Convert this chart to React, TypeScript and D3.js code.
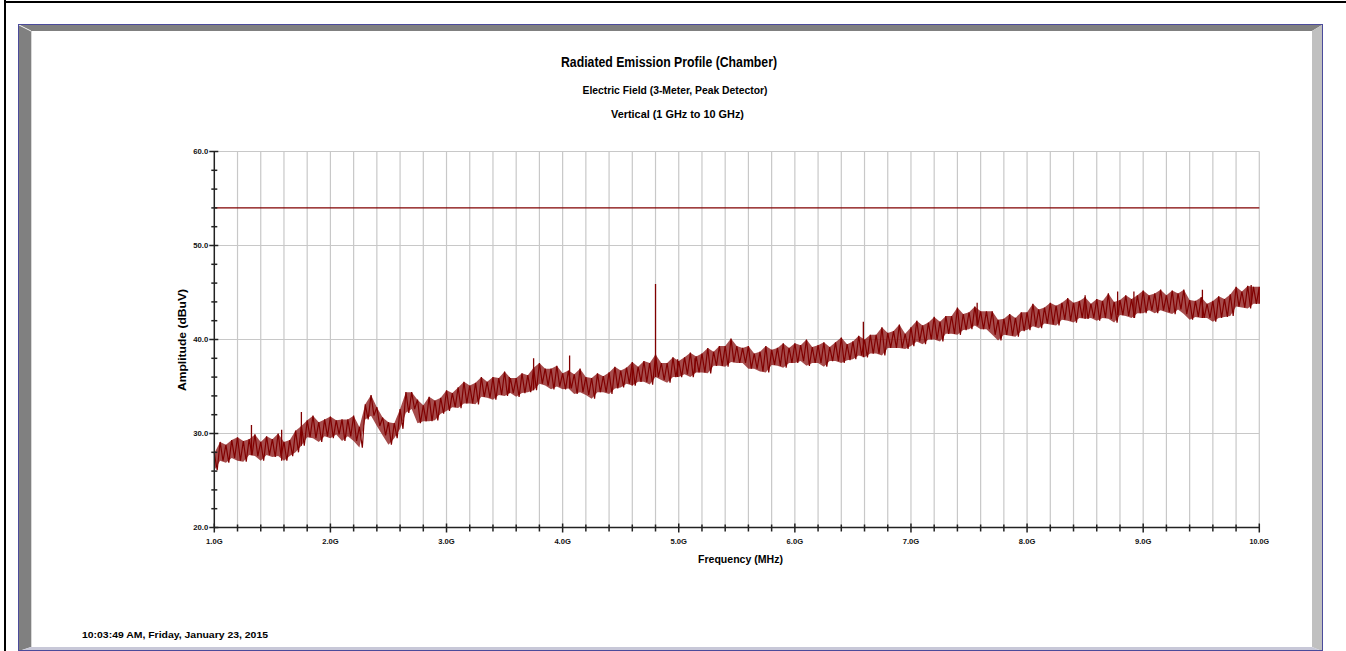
import React from 'react';
import * as d3 from 'd3';

// ---------- data ----------
const freqStartGHz = 1.0;
const freqStepGHz = 0.05;

// upper excursions of the noisy trace, one per 0.05 GHz from 1.00 to 10.00 GHz
const traceHigh = [
  27.9, 29.1, 28.8, 29.3, 29.6, 29.2, 29.4, 29.9, 29.1, 29.7,
  29.4, 30.0, 29.1, 29.3, 30.3, 30.8, 31.4, 31.9, 31.2, 31.5,
  31.8, 31.4, 31.5, 31.5, 31.9, 30.7, 33.1, 34.1, 32.8, 31.7,
  31.2, 31.1, 32.6, 34.4, 34.4, 33.6, 33.0, 33.9, 33.5, 33.8,
  34.6, 34.3, 34.9, 35.5, 35.1, 35.4, 36.0, 35.5, 36.0, 35.9,
  36.6, 35.9, 35.9, 36.4, 36.2, 37.0, 37.5, 36.9, 36.9, 37.2,
  36.4, 36.7, 36.3, 36.9, 36.0, 35.9, 36.4, 36.1, 36.5, 37.1,
  36.7, 37.0, 37.6, 37.1, 37.7, 37.5, 38.4, 37.5, 37.5, 38.1,
  37.7, 38.1, 38.6, 38.2, 38.5, 39.1, 38.7, 39.3, 39.3, 40.1,
  39.3, 39.1, 39.3, 38.5, 38.7, 39.3, 38.9, 39.1, 39.6, 39.1,
  39.6, 39.4, 40.0, 39.2, 39.4, 39.7, 39.2, 39.7, 40.2, 39.5,
  39.8, 40.4, 40.0, 40.5, 40.5, 41.3, 40.7, 40.9, 41.6, 40.6,
  41.3, 42.0, 41.5, 41.8, 42.4, 41.9, 42.5, 42.5, 43.4, 42.7,
  42.9, 43.5, 43.0, 43.0, 43.0, 42.1, 42.2, 42.7, 42.3, 42.9,
  42.9, 43.8, 43.2, 43.4, 43.9, 43.6, 43.9, 44.4, 43.9, 44.1,
  44.5, 43.8, 44.3, 44.1, 44.9, 44.0, 44.2, 44.7, 44.3, 44.7,
  45.2, 44.7, 44.9, 45.3, 44.7, 45.2, 44.9, 45.3, 44.2, 44.1,
  44.5, 43.8, 44.1, 44.6, 44.3, 44.8, 45.6, 45.1, 45.7, 45.6,
  45.6,
];

// lower excursions of the noisy trace, same frequency grid
const traceLow = [
  26.1, 27.1, 26.9, 27.4, 27.1, 27.0, 27.7, 27.6, 27.1, 27.7,
  27.5, 27.6, 27.1, 27.6, 28.0, 28.7, 29.6, 29.5, 29.1, 29.7,
  29.5, 29.9, 29.2, 29.7, 29.2, 28.5, 31.5, 31.9, 30.8, 29.8,
  28.8, 29.5, 30.5, 32.2, 32.6, 31.1, 31.3, 31.3, 31.4, 32.1,
  32.4, 32.8, 32.7, 33.2, 33.2, 33.1, 33.9, 33.8, 33.6, 34.1,
  34.0, 34.3, 33.9, 34.3, 34.4, 34.6, 35.3, 35.1, 34.7, 35.0,
  34.7, 34.8, 34.2, 34.4, 34.1, 33.7, 34.4, 34.4, 34.2, 34.8,
  34.9, 35.3, 35.1, 35.5, 35.5, 35.2, 36.0, 35.7, 35.4, 36.0,
  36.0, 36.3, 36.0, 36.5, 36.5, 36.4, 37.2, 37.2, 37.1, 37.6,
  37.5, 37.5, 36.9, 36.9, 36.6, 36.5, 37.3, 37.2, 37.0, 37.5,
  37.5, 37.7, 37.2, 37.5, 37.5, 37.1, 37.7, 37.7, 37.5, 37.8,
  37.9, 38.3, 38.1, 38.5, 38.5, 38.3, 39.1, 39.1, 39.1, 39.0,
  39.3, 39.8, 39.5, 40.0, 40.0, 39.8, 40.6, 40.6, 40.5, 41.0,
  41.1, 41.5, 41.1, 41.1, 40.5, 39.9, 40.5, 40.4, 40.3, 40.9,
  41.0, 41.4, 41.2, 41.7, 41.6, 41.5, 42.1, 42.0, 41.8, 42.3,
  42.2, 42.3, 42.0, 42.3, 42.2, 41.8, 42.6, 42.5, 42.3, 42.8,
  42.8, 43.1, 42.8, 43.1, 42.9, 42.7, 43.2, 42.7, 42.1, 42.4,
  42.3, 42.3, 41.9, 42.3, 42.4, 42.5, 43.5, 43.4, 43.3, 43.8,
  43.8,
];

// isolated narrow spurs standing above the noise
const spikeFreqGHz = [1.32, 1.58, 1.75, 3.54, 3.75, 4.06, 4.6, 4.8, 4.99, 5.14, 6.59, 7.57, 8.5, 8.78, 8.92, 9.51, 9.93];
const spikeTopDb = [30.9, 30.4, 32.3, 36.0, 38.0, 38.3, 37.0, 45.9, 37.9, 38.0, 41.9, 43.9, 44.7, 45.1, 45.1, 45.3, 45.8];

const limitDb = 54.0;

const xTickValues = [1, 2, 3, 4, 5, 6, 7, 8, 9, 10];
const xTickLabels = ['1.0G', '2.0G', '3.0G', '4.0G', '5.0G', '6.0G', '7.0G', '8.0G', '9.0G', '10.0G'];
const xMinorStep = 0.2;
const yTickValues = [20, 30, 40, 50, 60];
const yTickLabels = ['20.0', '30.0', '40.0', '50.0', '60.0'];
const yMinorStep = 2;

const titleText = 'Radiated Emission Profile (Chamber)';
const subtitle1 = 'Electric Field (3-Meter, Peak Detector)';
const subtitle2 = 'Vertical (1 GHz to 10 GHz)';
const xTitle = 'Frequency (MHz)';
const yTitle = 'Amplitude (dBuV)';
const stampText = '10:03:49 AM, Friday, January 23, 2015';

const FONT = "'Liberation Sans Narrow', 'Liberation Sans', Arial, sans-serif";
const TRACE = '#800000';

export default function App() {
  const x = d3.scaleLinear().domain([1, 10]).range([214.3, 1259.3]);
  const y = d3.scaleLinear().domain([20, 60]).range([527.5, 151.5]);

  const minorX = d3.range(1, 10.0001, xMinorStep);
  const minorY = d3.range(20, 60.0001, yMinorStep);

  const freqs = traceHigh.map((_, i) => freqStartGHz + i * freqStepGHz);

  // zig-zag the trace between its upper and lower excursions
  const pts: [number, number][] = [];
  traceHigh.forEach((hi, i) => {
    const f = freqs[i];
    pts.push([f, hi]);
    pts.push([Math.min(10, f + freqStepGHz / 2), traceLow[i]]);
  });
  const line = d3
    .line<[number, number]>()
    .x((d) => x(d[0]))
    .y((d) => y(d[1]));
  const tracePath = line(pts) || '';

  // noise band body
  const area = d3
    .area<number>()
    .x((_, i) => x(freqs[i]))
    .y0((_, i) => y(traceLow[i]))
    .y1((d) => y(d));
  const bandPath = area(traceHigh) || '';

  const spikePath = spikeFreqGHz
    .map((f, i) => {
      const idx = Math.round((f - freqStartGHz) / freqStepGHz);
      const base = traceLow[Math.max(0, Math.min(traceLow.length - 1, idx))];
      return `M${x(f)},${y(base)}L${x(f)},${y(spikeTopDb[i])}`;
    })
    .join('');

  const [x0, x1] = x.range();
  const [yb, yt] = y.range();

  return (
    <div style={{ position: 'fixed', left: 0, top: 0, width: 1346, height: 651, background: '#fff' }}>
      <svg width={1346} height={651} style={{ display: 'block' }}>
        <rect x={0} y={0} width={1346} height={651} fill="#fff" />
        {/* outer black rules */}
        <rect x={4} y={0} width={2} height={651} fill="#000" />
        <rect x={4} y={1} width={1342} height={2} fill="#000" />

        {/* bevelled frame */}
        <polygon points="19,25 1322,25 1312,31 31,31" fill="#808080" />
        <polygon points="19,25 31,31 31,647 19,651" fill="#808080" />
        <polygon points="1322,25 1322,651 1312,647 1312,31" fill="#c0c0c0" />
        <polygon points="19,651 31,647 1312,647 1322,651" fill="#c8c8d8" />
        <rect x={31} y={31} width={1281} height={616} fill="#fff" />
        <line x1={19} y1={25} x2={31} y2={31} stroke="#f0f0f0" strokeWidth={1} />
        <line x1={31.5} y1={31} x2={31.5} y2={647} stroke="#d8d8d8" strokeWidth={1} />
        <rect x={18.5} y={24.5} width={1304} height={626} fill="none" stroke="#4b4b9b" strokeWidth={1} />

        {/* titles */}
        <g fontFamily={FONT} fontWeight="bold" fill="#000" textAnchor="middle">
          <text x={669} y={67} fontSize={14} textLength={216} lengthAdjust="spacingAndGlyphs">{titleText}</text>
          <text x={675} y={94} fontSize={10} textLength={185} lengthAdjust="spacingAndGlyphs">{subtitle1}</text>
          <text x={677.5} y={118} fontSize={10} textLength={133} lengthAdjust="spacingAndGlyphs">{subtitle2}</text>
        </g>

        {/* grid */}
        <g stroke="#c8c8c8" strokeWidth={1.2}>
          {minorX.slice(1).map((f, i) => (
            <line key={'gx' + i} x1={x(f)} x2={x(f)} y1={yt} y2={yb} />
          ))}
          {yTickValues.slice(1).map((v, i) => (
            <line key={'gy' + i} x1={x0} x2={x1} y1={y(v)} y2={y(v)} />
          ))}
        </g>

        {/* limit line */}
        <line x1={x0} x2={x1} y1={y(limitDb)} y2={y(limitDb)} stroke={TRACE} strokeWidth={1.1} />

        {/* trace */}
        <path d={bandPath} fill={TRACE} fillOpacity={0.7} stroke="none" />
        <path d={tracePath} fill="none" stroke={TRACE} strokeWidth={1.2} strokeLinejoin="miter" />
        <path d={spikePath} fill="none" stroke={TRACE} strokeWidth={1.3} />

        {/* axes */}
        <g stroke="#222" strokeWidth={1.5}>
          <line x1={x0} x2={x0} y1={yt - 0.5} y2={yb + 0.5} />
          <line x1={x0} x2={x1} y1={yb} y2={yb} />
          {minorY.map((v, i) => {
            const major = yTickValues.includes(Math.round(v));
            return (
              <line key={'ty' + i} x1={major ? x0 - 5 : x0 - 3} x2={major ? x0 + 4 : x0 + 3} y1={y(v)} y2={y(v)} />
            );
          })}
          {minorX.map((f, i) => {
            const major = Math.abs(f - Math.round(f)) < 1e-6;
            return (
              <line key={'tx' + i} x1={x(f)} x2={x(f)} y1={major ? yb - 4 : yb - 3} y2={major ? yb + 5 : yb + 4} />
            );
          })}
        </g>

        {/* tick labels */}
        <g fontFamily={FONT} fontWeight="bold" fontSize={8} fill="#111">
          {yTickValues.map((v, i) => (
            <text key={'ly' + i} x={x0 - 6} y={y(v) + 2.9} textAnchor="end" textLength={15} lengthAdjust="spacingAndGlyphs">
              {yTickLabels[i]}
            </text>
          ))}
          {xTickValues.map((f, i) => (
            <text key={'lx' + i} x={x(f)} y={543.5} textAnchor="middle" textLength={xTickLabels[i].length > 4 ? 19.5 : 16.5} lengthAdjust="spacingAndGlyphs">
              {xTickLabels[i]}
            </text>
          ))}
        </g>

        {/* axis titles */}
        <g fontFamily={FONT} fontWeight="bold" fontSize={10.5} fill="#000" textAnchor="middle">
          <text x={740.5} y={563} textLength={85} lengthAdjust="spacingAndGlyphs">{xTitle}</text>
          <text transform="translate(186,340) rotate(-90)" textLength={102} lengthAdjust="spacingAndGlyphs">{yTitle}</text>
        </g>

        {/* timestamp */}
        <text x={82} y={637.5} fontFamily={FONT} fontWeight="bold" fontSize={9} fill="#000" textLength={186} lengthAdjust="spacingAndGlyphs">
          {stampText}
        </text>
      </svg>
    </div>
  );
}
